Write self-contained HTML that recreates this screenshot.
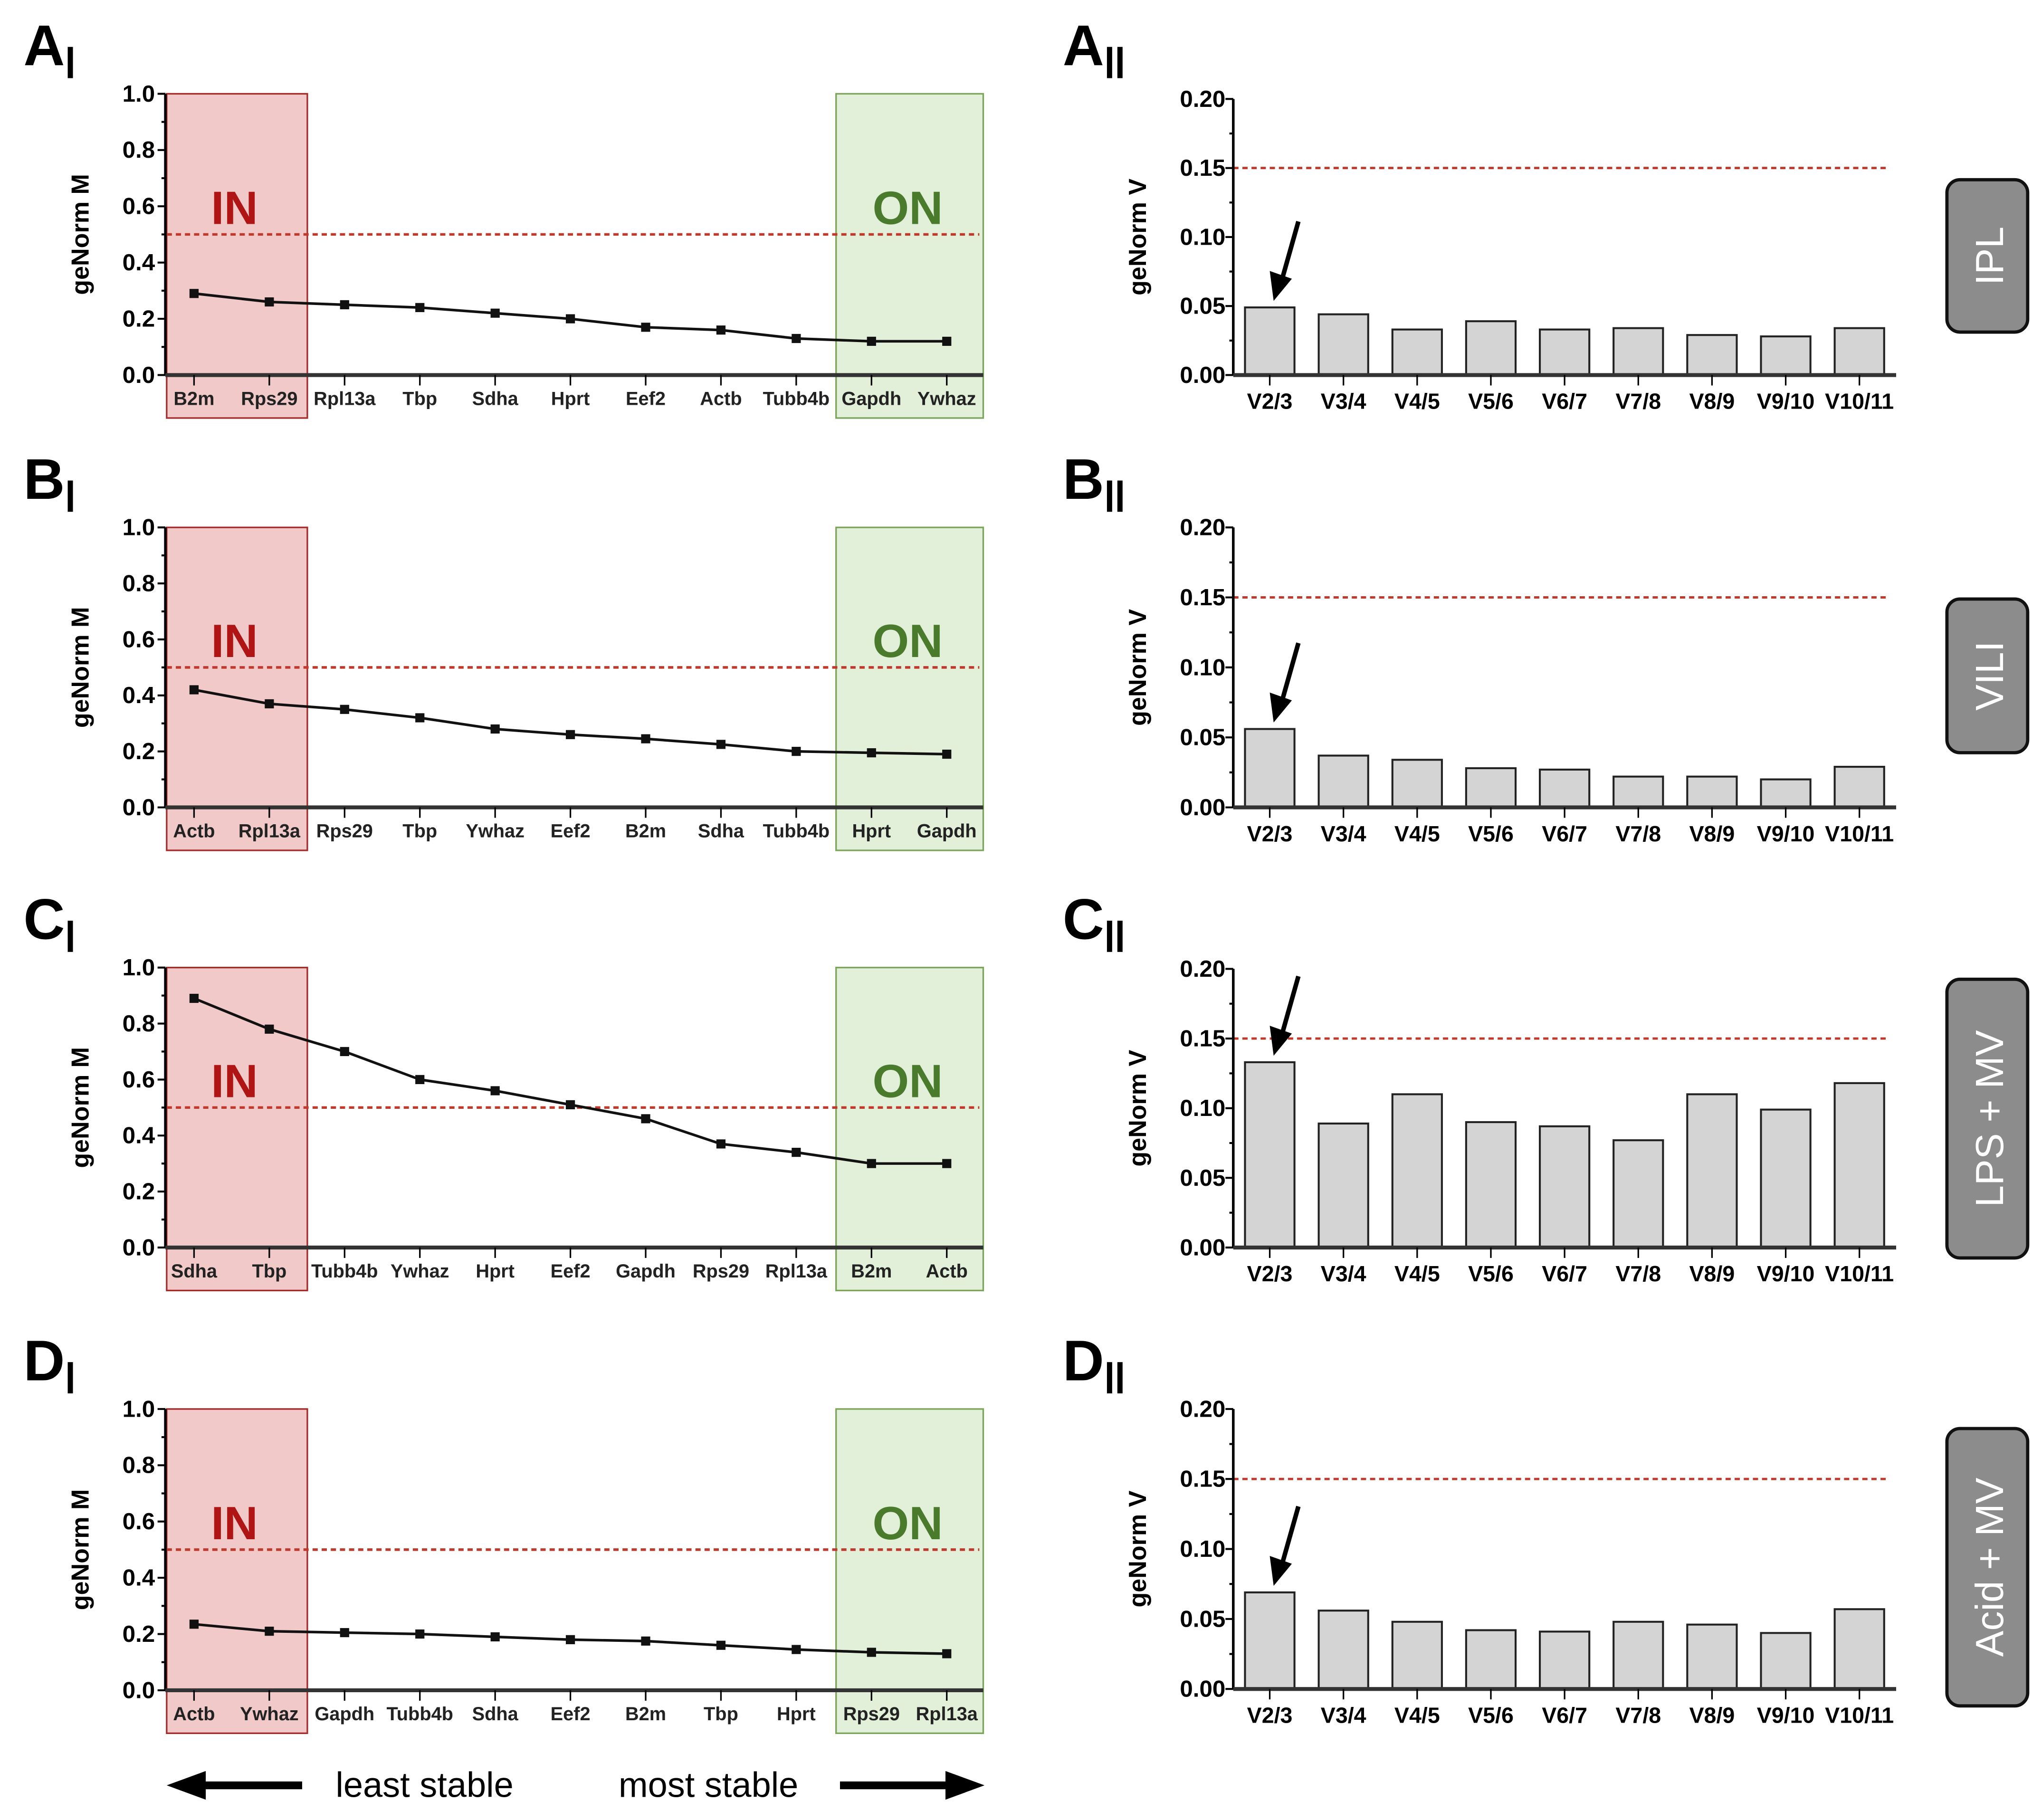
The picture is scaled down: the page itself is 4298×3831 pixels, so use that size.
<!DOCTYPE html>
<html><head><meta charset="utf-8">
<style>
html,body{margin:0;padding:0;background:#fff;}
svg{display:block;}
text{font-family:"Liberation Sans",sans-serif;}
</style></head>
<body>
<svg id="fig" width="4298" height="3831" viewBox="0 0 1568 1397.6" xmlns="http://www.w3.org/2000/svg"></svg>
<script>
const genesA=["B2m","Rps29","Rpl13a","Tbp","Sdha","Hprt","Eef2","Actb","Tubb4b","Gapdh","Ywhaz"];
const genesB=["Actb","Rpl13a","Rps29","Tbp","Ywhaz","Eef2","B2m","Sdha","Tubb4b","Hprt","Gapdh"];
const genesC=["Sdha","Tbp","Tubb4b","Ywhaz","Hprt","Eef2","Gapdh","Rps29","Rpl13a","B2m","Actb"];
const genesD=["Actb","Ywhaz","Gapdh","Tubb4b","Sdha","Eef2","B2m","Tbp","Hprt","Rps29","Rpl13a"];
const mA=[0.29,0.26,0.25,0.24,0.22,0.20,0.17,0.16,0.13,0.12,0.12];
const mB=[0.42,0.37,0.35,0.32,0.28,0.26,0.245,0.225,0.20,0.195,0.19];
const mC=[0.89,0.78,0.70,0.60,0.56,0.51,0.46,0.37,0.34,0.30,0.30];
const mD=[0.235,0.21,0.205,0.20,0.19,0.18,0.175,0.16,0.145,0.135,0.13];
const pairs=["V2/3","V3/4","V4/5","V5/6","V6/7","V7/8","V8/9","V9/10","V10/11"];
const vA=[0.049,0.044,0.033,0.039,0.033,0.034,0.029,0.028,0.034];
const vB=[0.056,0.037,0.034,0.028,0.027,0.022,0.022,0.020,0.029];
const vC=[0.133,0.089,0.110,0.090,0.087,0.077,0.110,0.099,0.118];
const vD=[0.069,0.056,0.048,0.042,0.041,0.048,0.046,0.040,0.057];
const mTicks=["0.0","0.2","0.4","0.6","0.8","1.0"];
const vTicks=["0.00","0.05","0.10","0.15","0.20"];
const conditions=["IPL","VILI","LPS + MV","Acid + MV"];
const letters=["A","B","C","D"];

const svg=document.getElementById('fig');
const NS="http://www.w3.org/2000/svg";
function el(tag,attrs,parent,txt){const e=document.createElementNS(NS,tag);for(const k in attrs)e.setAttribute(k,attrs[k]);if(txt!==undefined)e.textContent=txt;(parent||svg).appendChild(e);return e;}

const panels=[
 {g:genesA,m:mA,v:vA,top:72,bot:288,vtop:76,vbot:288,box:[138,255]},
 {g:genesB,m:mB,v:vB,top:405,bot:620,vtop:405,vbot:620,box:[460,578]},
 {g:genesC,m:mC,v:vC,top:743,bot:958,vtop:744,vbot:958,box:[752,966]},
 {g:genesD,m:mD,v:vD,top:1082,bot:1298,vtop:1082,vbot:1297,box:[1097,1310]}
];

panels.forEach((p,i)=>{
 // ---------- left line chart ----------
 const gL=el('g',{});
 
 
 const ax=127, xEnd=755;
 const y=v=>p.bot-(p.bot-p.top)*v;
 const x=k=>149+k*57.8;
 const lab=el('text',{x:18,y:p.top-22,'font-size':44,'font-weight':'bold'},gL,letters[i]);
 
 
 el('rect',{x:52,y:p.top-36,width:4,height:24,fill:'#000'},gL);
 // boxes
 const rb=el('rect',{x:128,y:p.top,width:108,height:p.bot-p.top+33,fill:'#f2c9c9',stroke:'#a52a2a','stroke-width':1.2},gL);
 
 
 const gb=el('rect',{x:642,y:p.top,width:113,height:p.bot-p.top+33,fill:'#e2efd9',stroke:'#7aa55a','stroke-width':1.2},gL);
 
 
 el('text',{x:180,y:y(0.5)-8,'font-size':36,'font-weight':'bold',fill:'#b01515','text-anchor':'middle'},gL,'IN');
 el('text',{x:697,y:y(0.5)-8,'font-size':36,'font-weight':'bold',fill:'#4a7a2c','text-anchor':'middle'},gL,'ON');
 el('line',{x1:128,x2:752,y1:y(0.5),y2:y(0.5),stroke:'#c0392b','stroke-width':2,'stroke-dasharray':'4,3'},gL);
 // axes
 el('line',{x1:ax,x2:ax,y1:p.top,y2:p.bot,stroke:'#000','stroke-width':2},gL);
 el('line',{x1:ax,x2:xEnd,y1:p.bot,y2:p.bot,stroke:'#333','stroke-width':3},gL);
 for(let t=0;t<=10;t++){const yy=y(t/10);el('line',{x1:ax-(t%2?3:6),x2:ax,y1:yy,y2:yy,stroke:'#000','stroke-width':1.5},gL);}
 mTicks.forEach(t=>{el('text',{x:ax-8,y:y(parseFloat(t))+6,'font-size':18,'font-weight':'bold','text-anchor':'end'},gL,t);});
 const yt=el('text',{transform:`translate(68,${(p.top+p.bot)/2}) rotate(-90)`,'font-size':19,'font-weight':'bold','text-anchor':'middle'},gL,'geNorm M');
 
 
 p.g.forEach((g,k)=>{
  el('line',{x1:x(k),x2:x(k),y1:p.bot,y2:p.bot+8,stroke:'#000','stroke-width':1.2},gL);
  el('text',{x:x(k),y:p.bot+23,'font-size':14.5,'font-weight':'bold','text-anchor':'middle',fill:'#222'},gL,g);
 });
 const pts=p.m.map((v,k)=>x(k)+','+y(v)).join(' ');
 const ln=el('polyline',{points:pts,fill:'none',stroke:'#111','stroke-width':2},gL);
 
 
 p.m.forEach((v,k)=>{const r=el('rect',{x:x(k)-3.5,y:y(v)-3.5,width:7,height:7,fill:'#111'},gL);
  
  });

 // ---------- right bar chart ----------
 const gR=el('g',{});
 
 
 const bx=947, bEnd=1456;
 const vy=v=>p.vbot-(p.vbot-p.vtop)*v/0.2;
 const bxf=k=>975+k*56.6;
 const lab2=el('text',{x:816,y:p.top-22,'font-size':44,'font-weight':'bold'},gR,letters[i]);
 
 
 el('rect',{x:850,y:p.top-36,width:4,height:24,fill:'#000'},gR);
 el('rect',{x:858,y:p.top-36,width:4,height:24,fill:'#000'},gR);
 el('line',{x1:bx,x2:1450,y1:vy(0.15),y2:vy(0.15),stroke:'#c0392b','stroke-width':1.8,'stroke-dasharray':'4,3'},gR);
 p.v.forEach((v,k)=>{const b=el('rect',{x:bxf(k)-19,y:vy(v),width:38,height:p.vbot-vy(v),fill:'#d4d4d4',stroke:'#222','stroke-width':1.5},gR);
  
  });
 el('line',{x1:bx,x2:bx,y1:p.vtop,y2:p.vbot,stroke:'#000','stroke-width':2},gR);
 el('line',{x1:bx,x2:bEnd,y1:p.vbot,y2:p.vbot,stroke:'#333','stroke-width':3},gR);
 for(let t=0;t<=8;t++){const yy=vy(t*0.025);el('line',{x1:bx-(t%2?3:6),x2:bx,y1:yy,y2:yy,stroke:'#000','stroke-width':1.5},gR);}
 vTicks.forEach(t=>{el('text',{x:bx-6,y:vy(parseFloat(t))+6,'font-size':18,'font-weight':'bold','text-anchor':'end'},gR,t);});
 const yt2=el('text',{transform:`translate(880,${(p.vtop+p.vbot)/2}) rotate(-90)`,'font-size':19,'font-weight':'bold','text-anchor':'middle'},gR,'geNorm V');
 
 
 pairs.forEach((s,k)=>{
  el('line',{x1:bxf(k),x2:bxf(k),y1:p.vbot,y2:p.vbot+8,stroke:'#000','stroke-width':1.2},gR);
  el('text',{x:bxf(k),y:p.vbot+26,'font-size':17,'font-weight':'bold','text-anchor':'middle'},gR,s);
 });
 // arrow
 const ay=vy(p.v[0]);
 const ar=el('g',{},gR);
 
 
 el('line',{x1:997,y1:ay-66,x2:984,y2:ay-20,stroke:'#000','stroke-width':3.5},ar);
 el('polygon',{points:`${978},${ay-5} ${975},${ay-28} ${992},${ay-22}`,fill:'#000'},ar);
 // condition box
 const cb=el('rect',{x:1495,y:p.box[0],width:62,height:p.box[1]-p.box[0],rx:10,fill:'#8c8c8c',stroke:'#111','stroke-width':2.5},gR);
 
 
 el('text',{transform:`translate(1538,${(p.box[0]+p.box[1])/2}) rotate(-90)`,'font-size':30,fill:'#fff','text-anchor':'middle'},gR,conditions[i]);
});

// bottom stability arrows
const gb=el('g',{});


el('line',{x1:232,y1:1371,x2:150,y2:1371,stroke:'#000','stroke-width':6},gb);
el('polygon',{points:'128,1371 158,1360 158,1382',fill:'#000'},gb);
el('text',{x:326,y:1380,'font-size':27,'text-anchor':'middle'},gb,'least stable');
el('text',{x:544,y:1380,'font-size':27,'text-anchor':'middle'},gb,'most stable');
el('line',{x1:645,y1:1371,x2:730,y2:1371,stroke:'#000','stroke-width':6},gb);
el('polygon',{points:'756,1371 726,1360 726,1382',fill:'#000'},gb);
</script>
</body></html>
